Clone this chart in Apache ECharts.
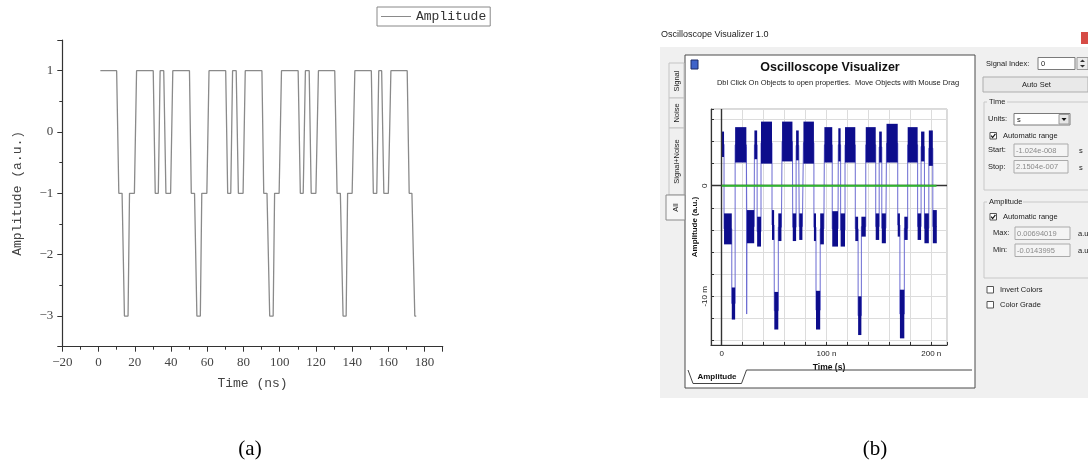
<!DOCTYPE html>
<html>
<head>
<meta charset="utf-8">
<script src="https://cdn.jsdelivr.net/npm/echarts@6/dist/echarts.min.js"></script>
<style>
  html, body { margin: 0; padding: 0; background: #fff; }
  #chart { width: 1088px; height: 467px; }
</style>
</head>
<body>
<div id="chart"></div>
<script>
// ---- panel (a): ideal waveform, time in ns ----
const timeA = [
  1, 10, 11.2, 13, 14.3, 16.3, 17.1, 19.8, 21, 30.2, 31.3, 33, 34, 36, 37.2, 39.8,
  41, 50.2, 51.2, 53, 54.3, 56.2, 57, 59.8, 61, 70.2, 71.3, 73, 74, 76, 77.2, 79.8,
  81, 90.2, 91.2, 93, 94.5, 96.4, 97.2, 99.7, 101, 110.2, 111.4, 113, 114.2, 116.3, 117.4, 120,
  121.4, 130.4, 131.7, 133.5, 135, 136.7, 137.5, 140, 141.5, 150.6, 151.7, 153.6, 154.7, 156.3, 157.5, 160,
  161.4, 170.4, 171.5, 173, 174.6, 175.4
]
const ampA = [
  1, 1, -1, -1, -3, -3, -1, -1, 1, 1, -1, -1, 1, 1, -1, -1,
  1, 1, -1, -1, -3, -3, -1, -1, 1, 1, -1, -1, 1, 1, -1, -1,
  1, 1, -1, -1, -3, -3, -1, -1, 1, 1, -1, -1, 1, 1, -1, -1,
  1, 1, -1, -1, -3, -3, -1, -1, 1, 1, -1, -1, 1, 1, -1, -1,
  1, 1, -1, -1, -3, -3
]

// ---- panel (b): noisy oscilloscope trace, read as level segments (ns, "m" units) ----
const segStart = [0, 2.2, 9.6, 12.8, 24, 31.2, 33.8, 37.5, 48, 50.2, 54, 57.6, 67.8, 71, 74, 78, 88, 90, 94, 98,
  105.5, 111.3, 113.5, 117.7, 127.5, 130.2, 133.3, 137.5, 147, 150.3, 152.8, 157.3, 168, 170.1, 174.3, 177.5, 187, 190.3, 193.5, 197.7, 201.5]
const segEnd = [2.2, 9.6, 12.8, 23.5, 31, 33.8, 37.5, 48, 50, 54, 57, 67.5, 71, 73.5, 77, 88, 90, 94, 97.5, 105.5,
  111, 113.5, 117.7, 127.5, 130.2, 133.3, 137.5, 147, 150.3, 152.8, 156.7, 168, 170.1, 174.3, 177.5, 187, 190.3, 193.5, 197.7, 201.5, 205.3]
const segLo = [2.6, -5.3, -12.1, 2.1, -5.2, 2.4, -5.5, 2.0, -4.9, -13, -5, 2.2, -5, 2.3, -4.9, 2.0, -5, -13, -5.3, 2.1,
  -5.5, 2.2, -5.5, 2.1, -5, -13.5, -4.6, 2.1, -4.9, 2.1, -5.2, 2.1, -4.6, -13.8, -4.9, 2.1, -4.9, 2.2, -5.2, 1.8, -5.2]
const segHi = [4.9, -2.5, -9.2, 5.3, -2.2, 5.0, -2.8, 5.8, -2.2, -9.6, -2.5, 5.8, -2.5, 5.0, -2.5, 5.8, -2.5, -9.5, -2.5, 5.3,
  -2.3, 5.2, -2.5, 5.3, -2.8, -10, -2.8, 5.3, -2.5, 4.9, -2.5, 5.6, -2.5, -9.4, -2.8, 5.3, -2.5, 4.9, -2.5, 5.0, -2.2]
const spikeTime = [23.5, 23.8, 24.1]
const spikeValue = [3.5, -11.6, -3.5]

const xLabelsB = { 0: '0', 100: '100 n', 200: '200 n' }
const yLabelsB = { 0: '0', '-10': '-10 m' }

const lineA = timeA.map((t, i) => [t, ampA[i]])
const bands = segStart.map((s, i) => [s, segEnd[i], segLo[i], segHi[i]])
const traceB = []
segStart.forEach((s, i) => {
  const mid = (segLo[i] + segHi[i]) / 2
  traceB.push([s, mid], [segEnd[i], mid])
})
const spikeB = spikeTime.map((t, i) => [t, spikeValue[i]])

const ui = 'Liberation Sans'
const minus = v => String(v).replace('-', '\u2212')
const txt = (x, y, text, o = {}) => ({
  type: 'text', x, y, z: 10, rotation: o.rot || 0,
  style: {
    text, fill: o.color || '#222', font: `${o.weight || 'normal'} ${o.size || 7.5}px "${o.family || ui}"`,
    textAlign: o.align || 'left', textVerticalAlign: 'middle'
  }
})
const box = (x, y, w, h, fill, stroke, z = -5) => ({
  type: 'rect', z, shape: { x, y, width: w, height: h },
  style: { fill, stroke, lineWidth: 1 }
})
const check = (x, y, on) => {
  const els = [box(x, y, 6.5, 6.5, '#fff', '#555', 5)]
  if (on) els.push({ type: 'polyline', z: 6, shape: { points: [[x + 1.2, y + 3.2], [x + 2.6, y + 5], [x + 5.4, y + 1.3]] }, style: { stroke: '#111', lineWidth: 1.2, fill: null } })
  return els
}

const graphics = [
  // window of panel (b)
  box(660, 47, 428, 351, '#f0f0f0', null, -20),
  txt(661, 35, 'Oscilloscope Visualizer 1.0', { size: 9 }),
  box(1081, 32, 7, 12, '#d64b45', null, -5),
  // side tabs
  box(669, 63, 15, 35, '#f0f0f0', '#c4c4c4', -8),
  box(669, 98, 15, 30, '#f0f0f0', '#c4c4c4', -8),
  box(669, 128, 15, 67, '#f0f0f0', '#c4c4c4', -8),
  box(666, 195, 19, 25, '#f7f7f7', '#8a8a8a', -8),
  txt(676.5, 81, 'Signal', { rot: Math.PI / 2, align: 'center', size: 7.5 }),
  txt(676.5, 113, 'Noise', { rot: Math.PI / 2, align: 'center', size: 7.5 }),
  txt(676.5, 161.5, 'Signal+Noise', { rot: Math.PI / 2, align: 'center', size: 7.5 }),
  txt(676, 207.5, 'All', { rot: Math.PI / 2, align: 'center', size: 7.5 }),
  // inner panel
  box(685, 55, 290, 333, '#fff', '#4a4a4a', -15),
  box(691, 60, 7, 9, '#3f63c9', '#1d2a66', 2),
  txt(830, 68, 'Oscilloscope Visualizer', { size: 12.5, weight: 'bold', align: 'center', color: '#111' }),
  txt(838, 82.5, 'Dbl Click On Objects to open properties.  Move Objects with Mouse Drag', { size: 7.5, align: 'center' }),
  // bottom tab
  { type: 'polyline', z: 5, shape: { points: [[688, 370], [693, 383.5], [741.5, 383.5], [746.5, 370], [972, 370]] }, style: { stroke: '#444', lineWidth: 1, fill: null } },
  txt(717, 377, 'Amplitude', { size: 8, weight: 'bold', align: 'center', color: '#111' }),
  // right control panel
  txt(986, 63.5, 'Signal Index:'),
  box(1038, 57.5, 37, 12, '#fff', '#7a7a7a'),
  txt(1041, 63.5, '0'),
  box(1077, 57.5, 11, 12, '#ececec', '#9a9a9a'),
  { type: 'polygon', z: 6, shape: { points: [[1080, 62], [1085, 62], [1082.5, 59.5]] }, style: { fill: '#333' } },
  { type: 'polygon', z: 6, shape: { points: [[1080, 65], [1085, 65], [1082.5, 67.5]] }, style: { fill: '#333' } },
  box(983, 77, 105, 15, '#e9e9e9', '#adadad'),
  txt(1036.5, 84.5, 'Auto Set', { align: 'center' }),
  // time group
  box(984, 102, 110, 88, null, '#c8c8c8', -6),
  box(987, 97, 20, 9, '#f0f0f0', null, -4),
  txt(989, 102, 'Time'),
  txt(988, 119, 'Units:'),
  box(1014, 113.5, 56, 11.5, '#fff', '#7a7a7a'),
  txt(1017, 119.5, 's'),
  box(1059, 114.5, 10, 9.5, '#e6e6e6', '#9a9a9a', -4),
  { type: 'polygon', z: 6, shape: { points: [[1061.5, 118], [1066.5, 118], [1064, 121]] }, style: { fill: '#111' } },
  ...check(990, 132.5, true),
  txt(1003, 136, 'Automatic range'),
  txt(988, 150, 'Start:'),
  box(1014, 144, 54, 12.5, '#f4f4f4', '#aaa'),
  txt(1016, 150.5, '-1.024e-008', { color: '#8a8a8a' }),
  txt(1079, 151, 's'),
  txt(988, 167, 'Stop:'),
  box(1014, 160.5, 54, 12.5, '#f4f4f4', '#aaa'),
  txt(1016, 167, '2.1504e-007', { color: '#8a8a8a' }),
  txt(1079, 168, 's'),
  // amplitude group
  box(984, 202, 110, 76, null, '#c8c8c8', -6),
  box(987, 197, 36, 9, '#f0f0f0', null, -4),
  txt(989, 202, 'Amplitude'),
  ...check(990, 213.5, true),
  txt(1003, 217, 'Automatic range'),
  txt(993, 233, 'Max:'),
  box(1015, 227, 55, 12.5, '#f4f4f4', '#aaa'),
  txt(1017, 233.5, '0.00694019', { color: '#8a8a8a' }),
  txt(1078, 234, 'a.u.'),
  txt(993, 250, 'Min:'),
  box(1015, 244, 55, 12.5, '#f4f4f4', '#aaa'),
  txt(1017, 250.5, '-0.0143995', { color: '#8a8a8a' }),
  txt(1078, 251, 'a.u.'),
  ...check(987, 286.5, false),
  txt(1000, 290, 'Invert Colors'),
  ...check(987, 301.5, false),
  txt(1000, 305, 'Color Grade'),
  // captions
  txt(250, 449, '(a)', { size: 21, family: 'Liberation Serif', align: 'center', color: '#000' }),
  txt(875, 449, '(b)', { size: 21, family: 'Liberation Serif', align: 'center', color: '#000' })
]

const chart = echarts.init(document.getElementById('chart'))
chart.setOption({
  backgroundColor: '#fff',
  animation: false,
  legend: {
    data: [{ name: 'Amplitude', icon: 'rect' }],
    left: 377, top: 7,
    itemWidth: 30, itemHeight: 1,
    padding: [3, 4, 3, 4],
    borderColor: '#888', borderWidth: 1,
    textStyle: { fontFamily: 'Liberation Mono', fontSize: 13, color: '#333' }
  },
  grid: [
    { left: 62.3, top: 40, width: 380.4, height: 306.7 },
    { left: 711, top: 109, width: 236, height: 236, show: true, backgroundColor: '#fff', borderColor: '#b5b5b5', borderWidth: 1 }
  ],
  xAxis: [
    {
      gridIndex: 0, type: 'value', min: -20, max: 190, interval: 20,
      name: 'Time (ns)', nameLocation: 'middle', nameGap: 30,
      nameTextStyle: { fontFamily: 'Liberation Mono', fontSize: 13, color: '#444' },
      axisLine: { onZero: false, lineStyle: { color: '#333', width: 1.2 } },
      axisTick: { length: 5, lineStyle: { color: '#333' } },
      minorTick: { show: true, splitNumber: 2, length: 3, lineStyle: { color: '#333' } },
      splitLine: { show: false },
      axisLabel: { showMaxLabel: false, margin: 9, fontFamily: 'Liberation Serif', fontSize: 13, color: '#444', formatter: minus }
    },
    {
      gridIndex: 1, type: 'value', min: -10.24, max: 215.04, splitNumber: 10,
      name: 'Time (s)', nameLocation: 'middle', nameGap: 15,
      nameTextStyle: { fontFamily: ui, fontSize: 8.5, fontWeight: 'bold', color: '#111' },
      axisLine: { onZero: false, lineStyle: { color: '#333', width: 1.2 } },
      axisTick: { inside: true, length: 3, lineStyle: { color: '#333' } },
      splitLine: { lineStyle: { color: '#dcdcdc' } },
      axisLabel: {
        margin: 5, fontFamily: ui, fontSize: 8, color: '#222',
        formatter: v => xLabelsB[Math.round(v)] !== undefined && Math.abs(v - Math.round(v)) < 1e-6 ? xLabelsB[Math.round(v)] : ''
      }
    }
  ],
  yAxis: [
    {
      gridIndex: 0, type: 'value', min: -3.5, max: 1.5, splitNumber: 5,
      name: 'Amplitude (a.u.)', nameLocation: 'middle', nameGap: 38,
      nameTextStyle: { fontFamily: 'Liberation Mono', fontSize: 13, color: '#444' },
      axisLine: { show: true, onZero: false, lineStyle: { color: '#333', width: 1.2 } },
      axisTick: { show: true, length: 5, lineStyle: { color: '#333' } },
      minorTick: { show: true, splitNumber: 2, length: 3, lineStyle: { color: '#333' } },
      splitLine: { show: false },
      axisLabel: { showMinLabel: false, showMaxLabel: false, margin: 9, fontFamily: 'Liberation Serif', fontSize: 13, color: '#444', formatter: minus }
    },
    {
      gridIndex: 1, type: 'value', min: -14.4, max: 6.94, splitNumber: 10,
      name: 'Amplitude (a.u.)', nameLocation: 'middle', nameGap: 12,
      nameTextStyle: { fontFamily: ui, fontSize: 8, fontWeight: 'bold', color: '#111' },
      axisLine: { show: true, onZero: false, lineStyle: { color: '#333', width: 1.2 } },
      axisTick: { show: true, inside: true, length: 3, lineStyle: { color: '#333' } },
      splitLine: { lineStyle: { color: '#dcdcdc' } },
      axisLabel: {
        rotate: 90, margin: 2, fontFamily: ui, fontSize: 8, color: '#222',
        formatter: v => yLabelsB[Math.round(v)] !== undefined && Math.abs(v - Math.round(v)) < 1e-6 ? yLabelsB[Math.round(v)] : ''
      }
    }
  ],
  series: [
    {
      name: 'Amplitude', type: 'line', xAxisIndex: 0, yAxisIndex: 0,
      data: lineA, showSymbol: false, color: '#8a8a8a',
      lineStyle: { color: '#8a8a8a', width: 1.3 }
    },
    {
      name: 'zero', type: 'line', xAxisIndex: 1, yAxisIndex: 1, data: [], z: 1,
      markLine: {
        silent: true, symbol: 'none', label: { show: false },
        lineStyle: { color: '#333', width: 1.4, type: 'solid' },
        data: [{ xAxis: 0 }, { yAxis: 0 }]
      }
    },
    {
      name: 'trace', type: 'line', xAxisIndex: 1, yAxisIndex: 1, data: traceB,
      showSymbol: false, z: 3, lineStyle: { color: '#6b6bd2', width: 1 }
    },
    {
      name: 'spike', type: 'line', xAxisIndex: 1, yAxisIndex: 1, data: spikeB,
      showSymbol: false, z: 3, lineStyle: { color: '#6b6bd2', width: 1 }
    },
    {
      name: 'noise', type: 'custom', xAxisIndex: 1, yAxisIndex: 1, data: bands, z: 4,
      renderItem: (params, api) => {
        const p0 = api.coord([api.value(0), api.value(3)])
        const p1 = api.coord([api.value(1), api.value(2)])
        return {
          type: 'rect',
          shape: { x: p0[0], y: p0[1], width: p1[0] - p0[0], height: p1[1] - p0[1] },
          style: { fill: '#0d0d8c' }
        }
      }
    },
    {
      name: 'ref', type: 'line', xAxisIndex: 1, yAxisIndex: 1,
      data: [[0, 0], [205, 0]], showSymbol: false, z: 5,
      lineStyle: { color: '#2fb52f', width: 2 }
    }
  ],
  graphic: graphics
})
</script>
</body>
</html>
